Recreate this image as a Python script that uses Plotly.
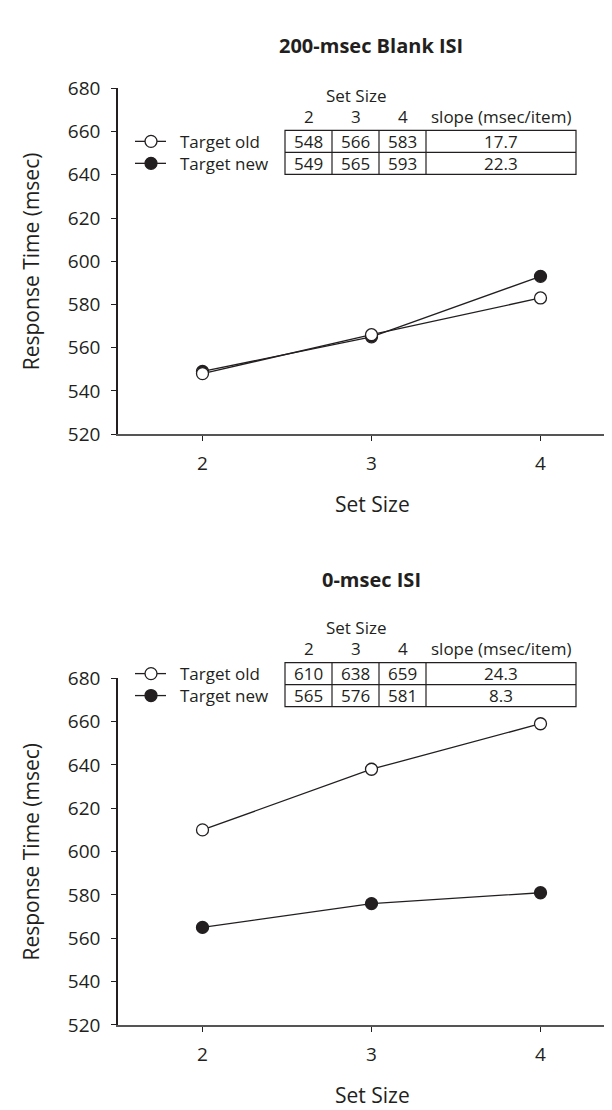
import plotly.graph_objects as go

# ---------------- data ----------------
set_sizes = [2, 3, 4]
panel_titles = ["200-msec Blank ISI", "0-msec ISI"]
series_names = ["Target old", "Target new"]
blank_old = [548, 566, 583]
blank_new = [549, 565, 593]
zero_old = [610, 638, 659]
zero_new = [565, 576, 581]
blank_slopes = [17.7, 22.3]
zero_slopes = [24.3, 8.3]
y_ticks = [520, 540, 560, 580, 600, 620, 640, 660, 680]
x_ticks = [2, 3, 4]

# ---------------- geometry helpers ----------------
W, H = 612, 1110
FONT = "Open Sans"
INK = "#231f20"


def px(x):
    return x / W


def py(y):
    return 1 - y / H


fig = go.Figure()

panels = [
    dict(old=blank_old, new=blank_new, slopes=blank_slopes, title=panel_titles[0],
         ytop=69, ybot=423, title_y=25, table_top=112, xlab_y=495),
    dict(old=zero_old, new=zero_new, slopes=zero_slopes, title=panel_titles[1],
         ytop=673, ybot=1028, title_y=572, table_top=657, xlab_y=1100),
]

shapes = []
annotations = []

for i, p in enumerate(panels):
    xa = "x" if i == 0 else "x2"
    ya = "y" if i == 0 else "y2"
    # filled first, open on top
    fig.add_trace(go.Scatter(
        x=set_sizes, y=p["new"], mode="lines+markers", xaxis=xa, yaxis=ya,
        line=dict(color=INK, width=1.3),
        marker=dict(symbol="circle", size=12, color=INK, line=dict(color=INK, width=1.3)),
        showlegend=False, name=series_names[1]))
    fig.add_trace(go.Scatter(
        x=set_sizes, y=p["old"], mode="lines+markers", xaxis=xa, yaxis=ya,
        line=dict(color=INK, width=1.3),
        marker=dict(symbol="circle", size=12, color="white", line=dict(color=INK, width=1.3)),
        showlegend=False, name=series_names[0]))

    # title
    annotations.append(dict(text="<b>%s</b>" % p["title"], x=px(363), y=py(p["title_y"]),
                            xref="paper", yref="paper", showarrow=False,
                            xanchor="center", yanchor="middle",
                            font=dict(family=FONT, size=20, color=INK)))
    # x axis title
    annotations.append(dict(text="Set Size", x=px(364), y=py(p["xlab_y"]),
                            xref="paper", yref="paper", showarrow=False,
                            xanchor="center", yanchor="middle",
                            font=dict(family=FONT, size=21, color=INK)))
    # y axis title
    annotations.append(dict(text="Response Time (msec)", x=px(23),
                            y=py((p["ytop"] + p["ybot"]) / 2),
                            xref="paper", yref="paper", showarrow=False, textangle=-90,
                            xanchor="center", yanchor="middle",
                            font=dict(family=FONT, size=21, color=INK)))

    # ---- table ----
    tt = p["table_top"]
    rh = 22.5
    cols = [277, 324, 371, 418, 568]
    centers = [(cols[k] + cols[k + 1]) / 2 for k in range(4)]
    annotations.append(dict(text="Set Size", x=px(centers[1]), y=py(tt - 36),
                            xref="paper", yref="paper", showarrow=False,
                            xanchor="center", yanchor="middle",
                            font=dict(family=FONT, size=17, color=INK)))
    headers = [str(s) for s in set_sizes] + ["slope (msec/item)"]
    for k, h in enumerate(headers):
        annotations.append(dict(text=h, x=px(centers[k]), y=py(tt - 14),
                                xref="paper", yref="paper", showarrow=False,
                                xanchor="center", yanchor="middle",
                                font=dict(family=FONT, size=17, color=INK)))
    rows = [p["old"] + [p["slopes"][0]], p["new"] + [p["slopes"][1]]]
    for r, vals in enumerate(rows):
        yc = tt + rh * (r + 0.5)
        for k, v in enumerate(vals):
            txt = ("%.1f" % v) if k == 3 else str(v)
            annotations.append(dict(text=txt, x=px(centers[k]), y=py(yc),
                                    xref="paper", yref="paper", showarrow=False,
                                    xanchor="center", yanchor="middle",
                                    font=dict(family=FONT, size=17, color=INK)))
    # table box & lines
    shapes.append(dict(type="rect", xref="paper", yref="paper",
                       x0=px(cols[0]), x1=px(cols[-1]), y0=py(tt), y1=py(tt + 2 * rh),
                       line=dict(color=INK, width=1.2)))
    shapes.append(dict(type="line", xref="paper", yref="paper",
                       x0=px(cols[0]), x1=px(cols[-1]), y0=py(tt + rh), y1=py(tt + rh),
                       line=dict(color=INK, width=1.2)))
    for c in cols[1:-1]:
        shapes.append(dict(type="line", xref="paper", yref="paper",
                           x0=px(c), x1=px(c), y0=py(tt), y1=py(tt + 2 * rh),
                           line=dict(color=INK, width=1.2)))

    # ---- legend (drawn manually) ----
    for r, (name, fill) in enumerate(zip(series_names, ["white", INK])):
        yc = tt + rh * (r + 0.5)
        shapes.append(dict(type="line", xref="paper", yref="paper",
                           x0=px(127), x1=px(158), y0=py(yc), y1=py(yc),
                           line=dict(color=INK, width=1.3)))
        shapes.append(dict(type="circle", xref="paper", yref="paper",
                           xsizemode="pixel", ysizemode="pixel",
                           xanchor=px(143), yanchor=py(yc),
                           x0=-6, x1=6, y0=-6, y1=6,
                           fillcolor=fill, line=dict(color=INK, width=1.3)))
        annotations.append(dict(text=name, x=px(170), y=py(yc),
                                xref="paper", yref="paper", showarrow=False,
                                xanchor="left", yanchor="middle",
                                font=dict(family=FONT, size=17, color=INK)))

x_dom = [px(110), 1.0]
x_common = dict(range=[1.5, 1.5 + (612 - 110) / 169.0], tickvals=x_ticks, ticks="outside",
                ticklen=5, tickwidth=1.2, tickcolor=INK, showline=True, linecolor="#555555",
                linewidth=2, showgrid=False, zeroline=False, ticklabelstandoff=6,
                tickfont=dict(family=FONT, size=19, color=INK), fixedrange=True)
y_common = dict(range=[520, 680], tickvals=y_ticks, ticks="outside", ticklen=5, tickwidth=1.2,
                tickcolor=INK, showline=True, linecolor=INK, linewidth=1.5, showgrid=False,
                zeroline=False, ticklabelstandoff=7,
                tickfont=dict(family=FONT, size=19, color=INK), fixedrange=True)

fig.update_layout(
    width=W, height=H, autosize=False,
    margin=dict(l=0, r=0, t=0, b=0),
    paper_bgcolor="white", plot_bgcolor="white",
    xaxis=dict(domain=x_dom, anchor="y", **x_common),
    yaxis=dict(domain=[py(panels[0]["ybot"]), py(panels[0]["ytop"])], anchor="x", **y_common),
    xaxis2=dict(domain=x_dom, anchor="y2", **x_common),
    yaxis2=dict(domain=[py(panels[1]["ybot"]), py(panels[1]["ytop"])], anchor="x2", **y_common),
    shapes=shapes, annotations=annotations, showlegend=False,
)

fig.write_html("out.html")
